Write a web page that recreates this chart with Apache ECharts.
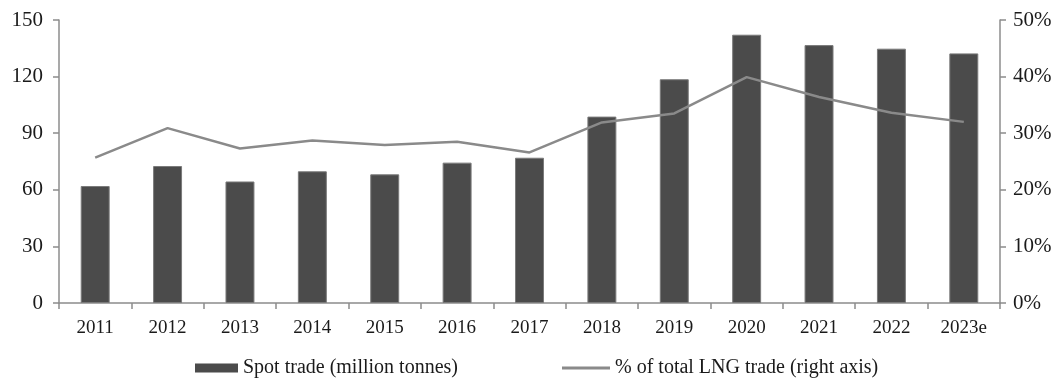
<!DOCTYPE html>
<html>
<head>
<meta charset="utf-8">
<script src="https://cdn.jsdelivr.net/npm/echarts@6/dist/echarts.min.js"></script>
<style>
  html, body { margin: 0; padding: 0; background: #fff; }
  #chart { width: 1060px; height: 381px; }
</style>
</head>
<body>
<div id="chart"></div>
<script>
// LNG spot trade volumes and share of total LNG trade
const years = ['2011', '2012', '2013', '2014', '2015', '2016', '2017', '2018', '2019', '2020', '2021', '2022', '2023e'];
const spotTrade = [62, 72.6, 64.4, 69.8, 68.2, 74.4, 77, 98.8, 118.6, 142.2, 136.7, 134.8, 132.3];
const shareOfTotal = [25.7, 30.9, 27.3, 28.7, 27.9, 28.5, 26.6, 31.9, 33.5, 39.9, 36.4, 33.6, 32.0];
const leftTicks = [0, 30, 60, 90, 120, 150];
const rightTicks = [0, 10, 20, 30, 40, 50];

const BAR_NAME = 'Spot trade (million tonnes)';
const LINE_NAME = '% of total LNG trade (right axis)';

const FONT = 'Liberation Serif';
const AXIS_COLOR = '#8c8c8c';
const TEXT_COLOR = '#1a1a1a';
const BAR_COLOR = '#4b4b4b';
const LINE_COLOR = '#8a8a8a';

const chart = echarts.init(document.getElementById('chart'), null, { renderer: 'canvas' });

const legendText = { fontFamily: FONT, fontSize: 20, color: TEXT_COLOR };

chart.setOption({
  animation: false,
  backgroundColor: '#ffffff',
  textStyle: { fontFamily: FONT },
  grid: { left: 59, right: 60, top: 20, bottom: 78, containLabel: false },
  legend: [
    {
      left: 190,
      top: 353,
      itemWidth: 43,
      itemHeight: 9,
      itemGap: 0,
      textStyle: legendText,
      data: [{ name: BAR_NAME, icon: 'rect', itemStyle: { borderWidth: 0 } }]
    },
    {
      left: 557,
      top: 353,
      itemWidth: 48,
      itemHeight: 3,
      itemGap: 0,
      textStyle: legendText,
      data: [{ name: LINE_NAME, icon: 'rect', itemStyle: { color: LINE_COLOR } }]
    }
  ],
  xAxis: {
    type: 'category',
    data: years,
    axisLine: { lineStyle: { color: AXIS_COLOR, width: 1.5 } },
    axisTick: { show: true, alignWithLabel: false, length: 6, lineStyle: { color: AXIS_COLOR, width: 1.5 } },
    axisLabel: { fontFamily: FONT, fontSize: 19, color: TEXT_COLOR, margin: 16 }
  },
  yAxis: [
    {
      type: 'value',
      min: leftTicks[0],
      max: leftTicks[leftTicks.length - 1],
      interval: leftTicks[1] - leftTicks[0],
      position: 'left',
      axisLine: { show: true, lineStyle: { color: AXIS_COLOR, width: 1.5 } },
      axisTick: { show: true, length: 6, lineStyle: { color: AXIS_COLOR, width: 1.5 } },
      splitLine: { show: false },
      axisLabel: { fontFamily: FONT, fontSize: 21, color: TEXT_COLOR, margin: 16 }
    },
    {
      type: 'value',
      min: rightTicks[0],
      max: rightTicks[rightTicks.length - 1],
      interval: rightTicks[1] - rightTicks[0],
      position: 'right',
      axisLine: { show: true, lineStyle: { color: AXIS_COLOR, width: 1.5 } },
      axisTick: { show: true, length: 6, lineStyle: { color: AXIS_COLOR, width: 1.5 } },
      splitLine: { show: false },
      axisLabel: { fontFamily: FONT, fontSize: 21, color: TEXT_COLOR, margin: 13, formatter: '{value}%' }
    }
  ],
  series: [
    {
      name: BAR_NAME,
      type: 'bar',
      yAxisIndex: 0,
      data: spotTrade,
      barWidth: '40%',
      itemStyle: { color: BAR_COLOR, borderColor: '#7a7a7a', borderWidth: 1 }
    },
    {
      name: LINE_NAME,
      type: 'line',
      yAxisIndex: 1,
      data: shareOfTotal,
      symbol: 'none',
      lineStyle: { color: LINE_COLOR, width: 2.5 },
      itemStyle: { color: LINE_COLOR }
    }
  ]
});
</script>
</body>
</html>
